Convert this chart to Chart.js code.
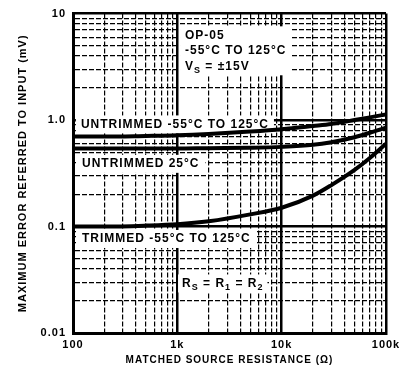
<!DOCTYPE html>
<html>
<head>
<meta charset="utf-8">
<script src="https://cdn.jsdelivr.net/npm/chart.js@4.4.0/dist/chart.umd.min.js"></script>
<style>
  html, body { margin: 0; padding: 0; background: #fff; }
  #wrap { width: 406px; height: 373px; }
</style>
</head>
<body>
<div id="wrap"><canvas id="chart" width="406" height="373"></canvas></div>
<script>
// matched source resistance (ohm)
const resistance = [100, 200, 500, 1000, 2000, 5000, 10000, 20000, 30000, 50000, 70000, 100000];
// max error referred to input (mV)
const untrimmedFull = [0.70, 0.70, 0.71, 0.72, 0.74, 0.78, 0.82, 0.88, 0.92, 1.0, 1.06, 1.13];
const untrimmed25 = [0.54, 0.54, 0.54, 0.54, 0.545, 0.55, 0.56, 0.585, 0.62, 0.69, 0.76, 0.85];
const trimmed = [0.10, 0.10, 0.102, 0.105, 0.112, 0.13, 0.15, 0.195, 0.245, 0.34, 0.44, 0.6];

const xTickLabels = { 100: "100", 1000: "1k", 10000: "10k", 100000: "100k" };
const yTickLabels = { 0.01: "0.01", 0.1: "0.1", 1: "1.0", 10: "10" };

const FONT = "'Liberation Sans', Arial, sans-serif";

// text notes on the plot (x/y in data units, one y per line)
const notes = [
  { x: 1185, y: [6.25, 4.5, 3.2], pad: 5, lines: [
    [["OP-05"]],
    [["-55°C TO 125°C"]],
    [["V"], ["S", true], [" = ±15V"]],
  ] },
  { x: 119, y: [0.91], pad: 5, lines: [[["UNTRIMMED -55°C TO 125°C"]]] },
  { x: 122, y: [0.388], pad: 6, lines: [[["UNTRIMMED 25°C"]]] },
  { x: 122, y: [0.0764], pad: 6, lines: [[["TRIMMED -55°C TO 125°C"]]] },
  { x: 1110, y: [0.0292], pad: 4, lines: [[["R"], ["S", true], [" = R"], ["1", true], [" = R"], ["2", true]]] },
];

function isDecade(v) {
  if (!v) return false;
  const l = Math.log10(v);
  return Math.abs(l - Math.round(l)) < 1e-9;
}

function logTicks(min, max) {
  const t = [];
  for (let e = Math.round(Math.log10(min)); e < Math.round(Math.log10(max)); e++) {
    for (let m = 1; m < 10; m++) t.push({ value: m * Math.pow(10, e) });
  }
  t.push({ value: max });
  return t;
}

function segFont(sub) {
  return sub ? "bold 9px " + FONT : "bold 12px " + FONT;
}

function measureLine(ctx, line) {
  let w = 0;
  line.forEach(([t, sub]) => {
    ctx.font = segFont(sub);
    w += ctx.measureText(t).width;
  });
  return w;
}

const notePlugin = {
  id: "notes",
  beforeDraw(chart) {
    chart.ctx.letterSpacing = "1px";
  },
  beforeDatasetsDraw(chart) {
    const { ctx, scales: { x, y } } = chart;
    ctx.save();
    ctx.letterSpacing = "1px";
    ctx.textBaseline = "middle";
    notes.forEach((n) => {
      const left = x.getPixelForValue(n.x);
      const w = Math.max(...n.lines.map((l) => measureLine(ctx, l)));
      const top = y.getPixelForValue(n.y[0]) - 9;
      const bottom = y.getPixelForValue(n.y[n.y.length - 1]) + 9;
      ctx.fillStyle = "#fff";
      ctx.fillRect(left - n.pad, top, w + n.pad * 2, bottom - top);
      ctx.fillStyle = "#000";
      n.lines.forEach((line, i) => {
        const cy = y.getPixelForValue(n.y[i]);
        let cx = left;
        line.forEach(([t, sub]) => {
          ctx.font = segFont(sub);
          ctx.fillText(t, cx, sub ? cy + 4 : cy);
          cx += ctx.measureText(t).width;
        });
      });
    });
    ctx.restore();
  },
};

const curve = (data) => ({
  data: resistance.map((r, i) => ({ x: r, y: data[i] })),
  borderColor: "#000",
  borderWidth: 4,
  pointRadius: 0,
  cubicInterpolationMode: "monotone",
});

const gridStyle = {
  color: "#000",
  drawTicks: false,
  lineWidth: (c) => (c.tick && isDecade(c.tick.value) ? 2.5 : 1.2),
};
const borderStyle = {
  color: "#000",
  width: 3,
  dash: (c) => (c.tick && !isDecade(c.tick.value) ? [5, 2] : []),
};

new Chart(document.getElementById("chart"), {
  type: "line",
  data: {
    datasets: [curve(untrimmedFull), curve(untrimmed25), curve(trimmed)],
  },
  plugins: [notePlugin],
  options: {
    responsive: false,
    animation: false,
    layout: { padding: { top: 10, right: 20, left: 0, bottom: 0 } },
    plugins: { legend: { display: false }, tooltip: { enabled: false } },
    scales: {
      x: {
        type: "logarithmic",
        min: 100,
        max: 100000,
        afterBuildTicks: (s) => { s.ticks = logTicks(100, 100000); },
        afterFit: (s) => { s.height = 40; },
        ticks: {
          autoSkip: false,
          maxRotation: 0,
          padding: 5,
          color: "#000",
          font: { family: FONT, size: 11, weight: "bold" },
          callback: (v) => xTickLabels[v] || "",
        },
        grid: gridStyle,
        border: borderStyle,
        title: {
          display: true,
          text: "MATCHED SOURCE RESISTANCE (Ω)",
          color: "#000",
          font: { family: FONT, size: 10, weight: "bold" },
          padding: { top: 0, bottom: 7 },
        },
      },
      y: {
        type: "logarithmic",
        min: 0.01,
        max: 10,
        afterBuildTicks: (s) => { s.ticks = logTicks(0.01, 10); },
        afterFit: (s) => { s.width = 73; },
        ticks: {
          autoSkip: false,
          padding: 7,
          color: "#000",
          font: { family: FONT, size: 11, weight: "bold" },
          callback: (v) => yTickLabels[v] || "",
        },
        grid: gridStyle,
        border: borderStyle,
        title: {
          display: true,
          text: "MAXIMUM ERROR REFERRED TO INPUT (mV)",
          color: "#000",
          font: { family: FONT, size: 11, weight: "bold" },
          padding: { top: 16, bottom: 0 },
        },
      },
    },
  },
});
</script>
</body>
</html>
